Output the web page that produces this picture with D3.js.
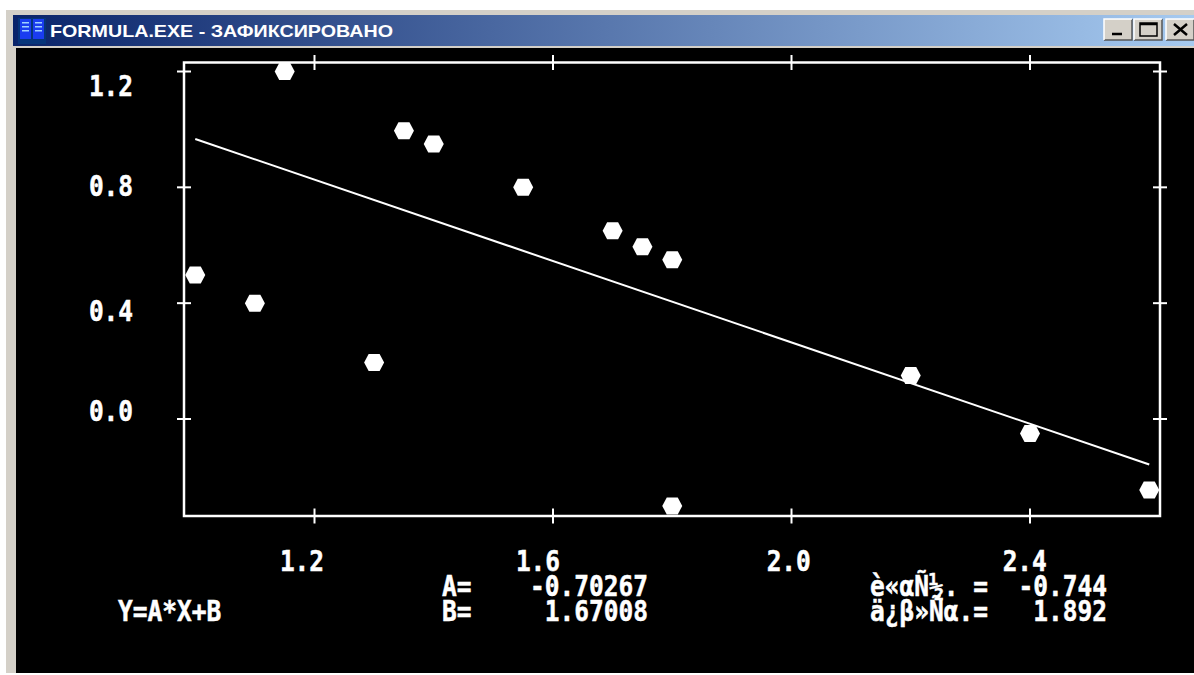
<!DOCTYPE html>
<html>
<head>
<meta charset="utf-8">
<script src="https://cdn.jsdelivr.net/npm/d3@7"></script>
<style>
  html, body { margin: 0; padding: 0; background: #fff; overflow: hidden; }
  svg { display: block; }
  .dos { font-family: "DejaVu Sans Mono", monospace; font-weight: bold; fill: #fff; stroke: #fff; stroke-width: 0.5px; }
</style>
</head>
<body>
<div id="chart"></div>
<script>
// data
const pointX = [1.0, 1.1, 1.15, 1.3, 1.35, 1.4, 1.55, 1.7, 1.75, 1.8, 1.8, 2.2, 2.4, 2.6];
const pointY = [0.497, 0.4, 1.2, 0.195, 0.995, 0.95, 0.8, 0.65, 0.595, 0.55, -0.3, 0.15, -0.05, -0.245];
const fitX = [1.0, 2.6];
const fitY = [0.967, -0.157];
const xTicks = [1.2, 1.6, 2.0, 2.4];
const yTicks = [1.2, 0.8, 0.4, 0.0];
const titleText = 'FORMULA.EXE - ЗАФИКСИРОВАНО';
const formulaText = 'Y=A*X+B';
const coefNames = ['A=', 'B='];
const coefValues = ['-0.70267', '1.67008'];
const statNames = ['è«αÑ½. =', 'ä¿β»Ñα.='];
const statValues = ['-0.744', '1.892'];

// constants
const width = 1194;
const height = 675;
const plot = { left: 184, right: 1160, top: 62.5, bottom: 516 };
const charW = 14.75;
const fontSize = 28;

// text sits on the old screen's character grid, not next to its tick
const rowBaseline = row => 96 + 25 * row;
const colCentre = col => 302 + charW * col;
const yTickRows = new Map([[1.2, 0], [0.8, 4], [0.4, 9], [0.0, 13]]);
const xTickCols = new Map([[1.2, 0], [1.6, 16], [2.0, 33], [2.4, 49]]);

const xScale = d3.scaleLinear().domain([1.2, 2.4]).range([314.5, 1030]);
const yScale = d3.scaleLinear().domain([0, 1.2]).range([419, 71.5]);

const $svg = d3.select('#chart').append('svg')
  .attr('width', width)
  .attr('height', height);

// window chrome
const $defs = $svg.append('defs');
const $grad = $defs.append('linearGradient').attr('id', 'titlebar');
$grad.append('stop').attr('offset', '0%').attr('stop-color', '#0a246a');
$grad.append('stop').attr('offset', '100%').attr('stop-color', '#a6caf0');

$svg.append('rect').attr('x', 6).attr('y', 10).attr('width', width - 6).attr('height', 663).attr('fill', '#d4d0c8');
$svg.append('rect').attr('x', 13).attr('y', 15).attr('width', width - 13).attr('height', 31).attr('fill', 'url(#titlebar)');
$svg.append('rect').attr('x', 16).attr('y', 48).attr('width', width - 16).attr('height', 625).attr('fill', '#000');

// title icon
const $icon = $svg.append('g').attr('transform', 'translate(18, 18)');
$icon.append('rect').attr('width', 28).attr('height', 26).attr('fill', '#06357a');
$icon.append('rect').attr('x', 2).attr('y', 1).attr('width', 11).attr('height', 20).attr('fill', '#1a3cf0');
$icon.append('rect').attr('x', 15).attr('y', 1).attr('width', 11).attr('height', 20).attr('fill', '#1a3cf0');
[4, 8, 12].forEach(dy => {
  $icon.append('rect').attr('x', 4).attr('y', dy).attr('width', 7).attr('height', 1.5).attr('fill', '#9fd0ff');
  $icon.append('rect').attr('x', 17).attr('y', dy).attr('width', 7).attr('height', 1.5).attr('fill', '#9fd0ff');
});

$svg.append('text')
  .attr('x', 50)
  .attr('y', 37)
  .attr('textLength', 343)
  .attr('lengthAdjust', 'spacingAndGlyphs')
  .style('font-family', '"Liberation Sans", sans-serif')
  .style('font-weight', 'bold')
  .style('font-size', '17px')
  .style('fill', '#fff')
  .text(titleText);

// window buttons
[1104, 1134, 1166].forEach((bx, i) => {
  const $b = $svg.append('g').attr('transform', `translate(${bx}, 19)`);
  $b.append('rect').attr('width', 28).attr('height', 21).attr('fill', '#d4d0c8');
  $b.append('path').attr('d', 'M0 21H28V0').attr('fill', 'none').attr('stroke', '#555').attr('stroke-width', 1.5);
  $b.append('path').attr('d', 'M0 21V0H28').attr('fill', 'none').attr('stroke', '#fff').attr('stroke-width', 1.5);
  const glyph = ['M8 15H18', 'M6 4H23V17H6Z M6 5.5H23', 'M8 5L21 16M21 5L8 16'][i];
  $b.append('path').attr('d', glyph).attr('fill', 'none').attr('stroke', '#000')
    .attr('stroke-width', i === 1 ? 1.5 : 2.5);
});

// plot frame
$svg.append('rect')
  .attr('x', plot.left)
  .attr('y', plot.top)
  .attr('width', plot.right - plot.left)
  .attr('height', plot.bottom - plot.top)
  .attr('fill', 'none')
  .attr('stroke', '#fff')
  .attr('stroke-width', 2.5);

// tick marks straddle all four sides
const $ticks = $svg.append('g').attr('stroke', '#fff').attr('stroke-width', 2);
[plot.top, plot.bottom].forEach(edge => {
  $ticks.append('g').selectAll('line').data(xTicks).enter().append('line')
    .attr('x1', d => xScale(d)).attr('x2', d => xScale(d))
    .attr('y1', edge - 7.5).attr('y2', edge + 7.5);
});
[plot.left, plot.right].forEach(edge => {
  $ticks.append('g').selectAll('line').data(yTicks).enter().append('line')
    .attr('x1', edge - 7).attr('x2', edge + 7)
    .attr('y1', d => yScale(d)).attr('y2', d => yScale(d));
});

// tick labels
const xAxis = d3.axisBottom(xScale).tickValues(xTicks).tickFormat(d3.format('.1f')).tickSize(0);
const yAxis = d3.axisLeft(yScale).tickValues(yTicks).tickFormat(d3.format('.1f')).tickSize(0);

const $xAxisGroup = $svg.append('g').attr('transform', `translate(0, ${plot.bottom})`).call(xAxis);
const $yAxisGroup = $svg.append('g').call(yAxis);
$xAxisGroup.select('.domain').remove();
$yAxisGroup.select('.domain').remove();

$xAxisGroup.selectAll('.tick').attr('transform', d => `translate(${colCentre(xTickCols.get(d))}, 0)`);
$xAxisGroup.selectAll('text')
  .attr('class', 'dos')
  .attr('x', 0)
  .attr('y', rowBaseline(19) - plot.bottom)
  .attr('dy', 0)
  .attr('text-anchor', 'middle')
  .attr('textLength', 3 * charW)
  .attr('lengthAdjust', 'spacingAndGlyphs')
  .style('font-size', fontSize + 'px');

$yAxisGroup.selectAll('.tick').attr('transform', 'translate(111, 0)');
$yAxisGroup.selectAll('text')
  .attr('class', 'dos')
  .attr('x', 0)
  .attr('y', d => rowBaseline(yTickRows.get(d)))
  .attr('dy', 0)
  .attr('text-anchor', 'middle')
  .attr('textLength', 3 * charW)
  .attr('lengthAdjust', 'spacingAndGlyphs')
  .style('font-size', fontSize + 'px');

// fit line
const line = d3.line().x(d => xScale(d[0])).y(d => yScale(d[1]));
$svg.append('path')
  .attr('d', line(d3.zip(fitX, fitY)))
  .attr('fill', 'none')
  .attr('stroke', '#fff')
  .attr('stroke-width', 2);

// points are flat-topped hexagons, wider than tall
const hexagon = {
  draw(context) {
    context.moveTo(-10, 0);
    context.lineTo(-5.5, -8.5);
    context.lineTo(5.5, -8.5);
    context.lineTo(10, 0);
    context.lineTo(5.5, 8.5);
    context.lineTo(-5.5, 8.5);
    context.closePath();
  }
};
$svg.append('g').selectAll('path')
  .data(d3.zip(pointX, pointY))
  .enter()
  .append('path')
  .attr('d', d3.symbol(hexagon))
  .attr('transform', d => `translate(${xScale(d[0])}, ${yScale(d[1])})`)
  .attr('fill', '#fff');

// readout text under the chart
function dosText(str, x, baseline) {
  $svg.append('text')
    .attr('class', 'dos')
    .attr('x', x)
    .attr('y', baseline)
    .attr('textLength', str.length * charW)
    .attr('lengthAdjust', 'spacingAndGlyphs')
    .style('font-size', fontSize + 'px')
    .text(str);
}

dosText(formulaText, 118, rowBaseline(21));
coefNames.forEach((s, i) => dosText(s, 442, rowBaseline(20 + i)));
coefValues.forEach((s, i) => dosText(s, 648 - s.length * charW, rowBaseline(20 + i)));
statNames.forEach((s, i) => dosText(s, 870, rowBaseline(20 + i)));
statValues.forEach((s, i) => dosText(s, 1107 - s.length * charW, rowBaseline(20 + i)));
</script>
</body>
</html>
